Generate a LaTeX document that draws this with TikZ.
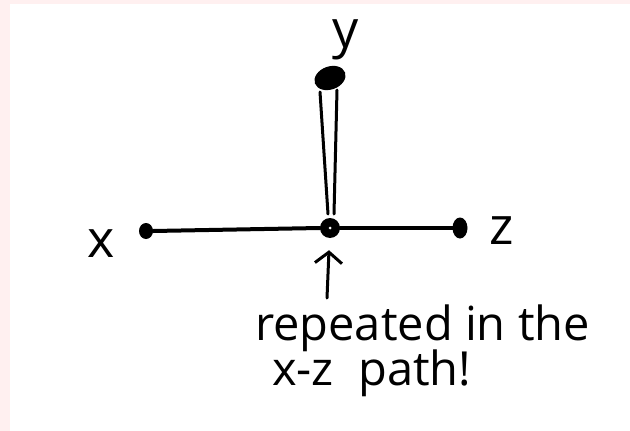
\documentclass[tikz,border=0pt]{standalone}
\usepackage{fontspec}
\setmainfont{Open Sans}
\usetikzlibrary{arrows.meta,calc,shapes.geometric}
\definecolor{pinkbg}{HTML}{FFF0F0}
\tikzset{
  edgeline/.style={line width=4pt, line cap=round},
  thinline/.style={line width=3pt, line cap=round},
  lbl/.style={font=\fontsize{52}{56}\selectfont, inner sep=0pt},
  note/.style={font=\fontsize{47}{52}\selectfont, inner sep=0pt, anchor=base west},
  smalldot/.style={ellipse, fill=black, inner sep=0pt},
}
\begin{document}
\begin{tikzpicture}[x=1pt,y=-1pt]
\useasboundingbox (0,0) rectangle (630,431);
\fill[pinkbg] (0,0) rectangle (630,431);
\fill[white] (10,4) rectangle (630,431);
% nodes
\node[smalldot, minimum width=14pt, minimum height=16pt] (x) at (146,231) {};
\node[circle, fill=black, minimum size=20pt, inner sep=0pt] (m) at (330,228) {};
\fill[white] (m.center) circle (1.5pt);
\node[smalldot, minimum width=15pt, minimum height=21pt] (z) at (460,228) {};
\node[smalldot, minimum width=32pt, minimum height=23pt, rotate=20] (y) at (330,78) {};
% labels
\node[lbl] (xl) at (101,244) {x};
\node[lbl] (yl) at (346,40) {y};
\node[lbl] (zl) at (502,231) {z};
% edges
\draw[edgeline] (x.east) -- (m.west);
\draw[edgeline] (m.east) -- (z.west);
\draw[thinline] ($(y.center)+(-10,14)$) -- ($(m.center)+(-2,-14)$);
\draw[thinline] ($(y.center)+(7,12)$) -- ($(m.center)+(4,-14)$);
% arrow
\coordinate (as) at (327,298);
\draw[thinline, -{Straight Barb[length=11pt,width=27pt,line width=3pt]}] (as) -- ($(m.south)+(-1,12)$);
% note
\node[note] (n1) at (255,340) {repeated in the};
\node[note] (n2) at (272,385) {x-z\ \ path!};
\end{tikzpicture}
\end{document}
